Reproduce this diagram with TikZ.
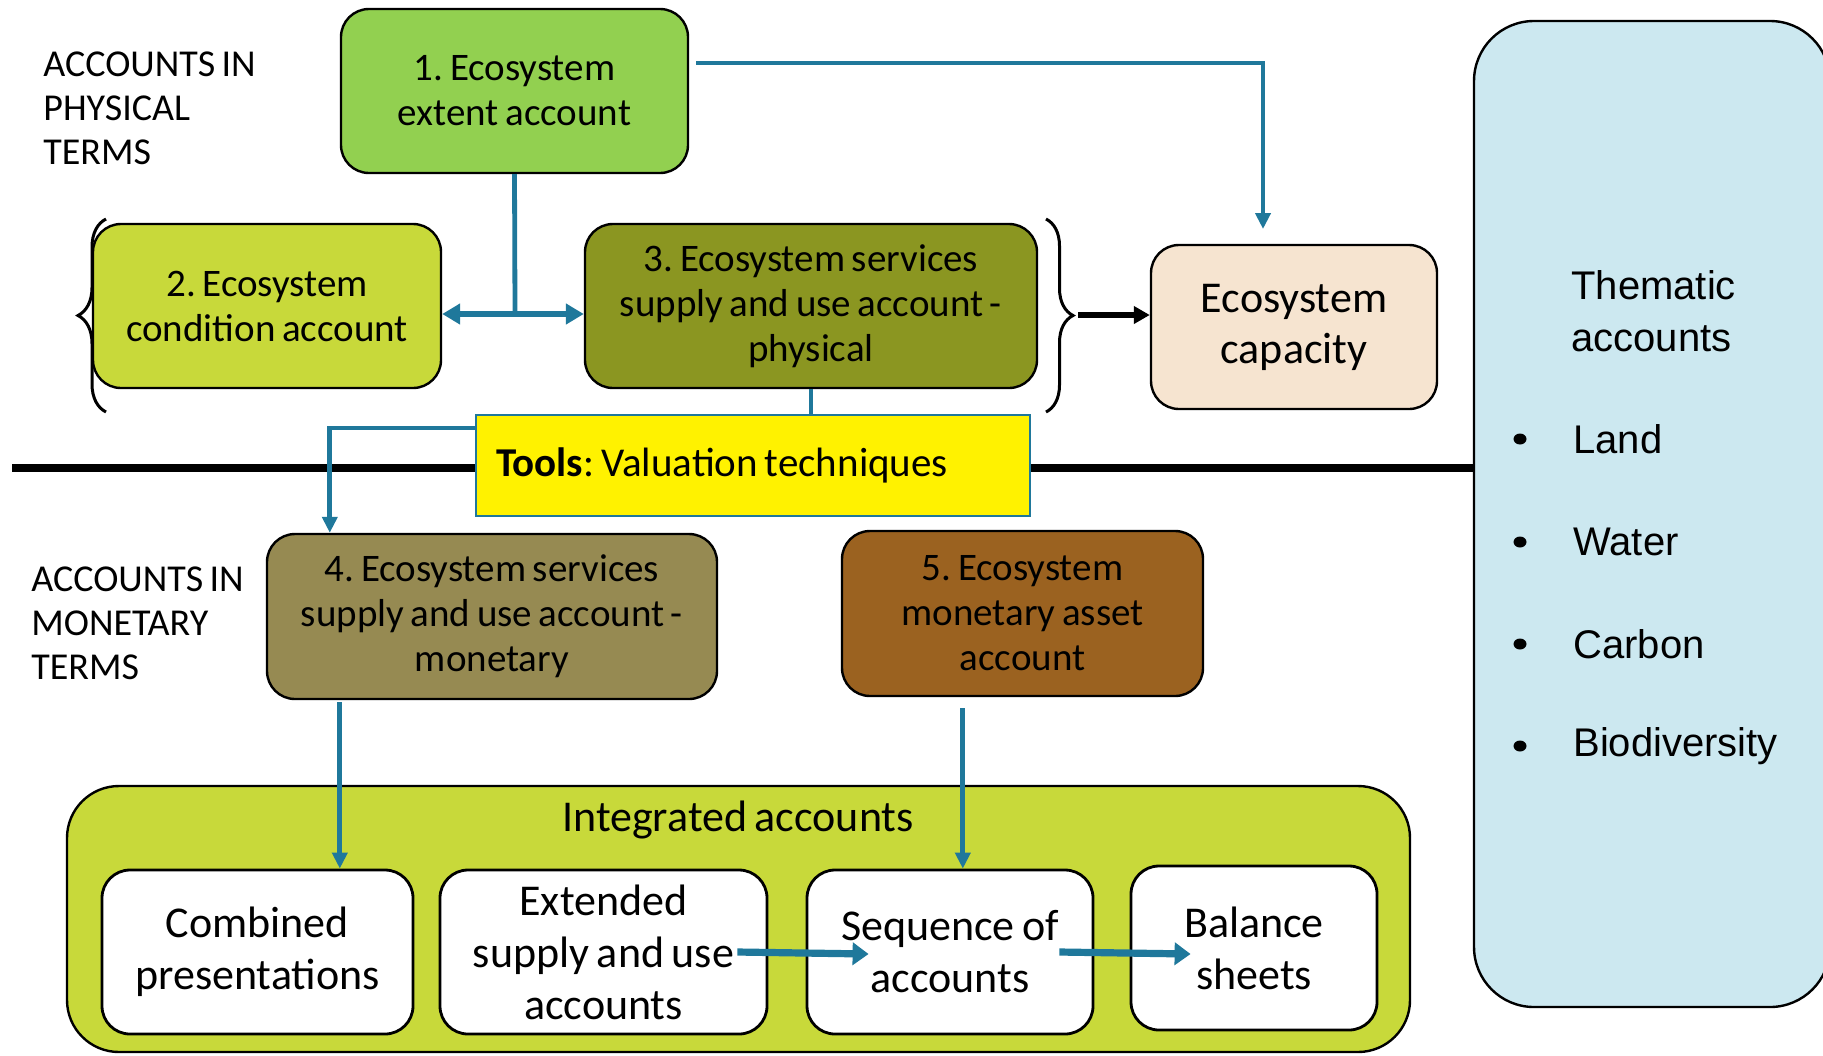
\documentclass[tikz,border=0pt]{standalone}
\usepackage{fontspec}
\setmainfont{Carlito}[WordSpace=0.75]
\newfontfamily\arialf{Liberation Sans}
\usetikzlibrary{arrows.meta,decorations.pathreplacing,calc,shapes.geometric}
\definecolor{arrblue}{RGB}{31,120,155}
\definecolor{cone}{RGB}{146,208,80}
\definecolor{ctwo}{RGB}{200,217,58}
\definecolor{cthree}{RGB}{139,150,33}
\definecolor{ccap}{RGB}{246,228,208}
\definecolor{cfour}{RGB}{150,138,82}
\definecolor{cfive}{RGB}{155,98,32}
\definecolor{cthem}{RGB}{204,232,240}
\begin{document}
\frenchspacing
\begin{tikzpicture}[x=0.5pt,y=-0.5pt,
  box/.style={draw=black, line width=1.2pt, rounded corners=14pt, align=center, inner sep=2pt,
    font=\fontsize{19.5}{22.5}\selectfont},
  ibox/.style={draw=black, line width=1.4pt, fill=white, rounded corners=14pt, align=center, inner sep=2pt,
    font=\fontsize{22}{26}\selectfont, minimum height=82pt},
  lbl/.style={anchor=west, align=flush left, inner sep=0pt, font=\fontsize{19}{22}\selectfont},
  thtxt/.style={anchor=west, inner sep=0pt, font=\arialf\fontsize{20}{26}\selectfont},
  bul/.style={ellipse, fill=black, inner sep=0pt, minimum width=6.5pt, minimum height=5.5pt},
  arr/.style={draw=arrblue, line width=2.4pt, -{Triangle[length=8pt,width=7.5pt]}},
  darr/.style={draw=arrblue, line width=2.6pt, {Triangle[length=9pt,width=10pt]}-{Triangle[length=9pt,width=10pt]}},
  tarr/.style={draw=arrblue, line width=3.6pt, -{Triangle[length=8pt,width=11pt]}},
  bline/.style={draw=arrblue, line width=2.4pt},
  brc/.style={draw=black, line width=1.5pt, decorate}]
\useasboundingbox (0,0) rectangle (1823,1055);

% thematic box
\begin{scope}
\clip (0,0) rectangle (1823,1055);
\node[draw=black, line width=1.2pt, fill=cthem, rounded corners=30pt, minimum width=178pt, minimum height=493pt] (them) at (1652,514) {};
\end{scope}
\node[thtxt, align=flush left] (thtitle) at (1571,311) {Thematic\\accounts};
\node[bul] (bu1) at (1520,439) {};
\node[bul] (bu2) at (1520,542) {};
\node[bul] (bu3) at (1520,644) {};
\node[bul] (bu4) at (1520,746) {};
\node[thtxt] (it1) at (1573,439) {Land};
\node[thtxt] (it2) at (1573,542) {Water};
\node[thtxt] (it3) at (1573,644) {Carbon};
\node[thtxt] (it4) at (1573,746) {Biodiversity};

% horizontal divider
\coordinate (hl) at (12,468);
\draw[black, line width=4pt] (hl) -- (hl -| them.west);

% left labels
\node[lbl] (lphys) at (43,108) {ACCOUNTS IN\\PHYSICAL\\TERMS};
\node[lbl] (lmon) at (31,623) {ACCOUNTS IN\\MONETARY\\TERMS};

% physical boxes
\node[box, fill=cone, minimum width=173.5pt, minimum height=82pt] (b1) at (514.5,91) {1. Ecosystem\\extent account};
\node[box, fill=ctwo, minimum width=174pt, minimum height=82pt] (b2) at (267,306) {2. Ecosystem\\condition account};
\node[box, fill=cthree, minimum width=226pt, minimum height=82pt] (b3) at (811,306) {3. Ecosystem services\\supply and use account -\\physical};
\node[box, fill=ccap, minimum width=143pt, minimum height=82pt, font=\fontsize{22}{25.5}\selectfont] (cap) at (1294,327) {\raisebox{-2pt}{\parbox{130pt}{\centering Ecosystem\\capacity}}};

% tools
\node[draw=arrblue, line width=1pt, fill=yellow, minimum height=50.5pt, text width=257pt, inner xsep=10pt, align=flush left,
  font=\fontsize{20.5}{24}\selectfont] (tools) at (753,465.5) {\textbf{Tools}: Valuation techniques};

% monetary boxes
\node[box, fill=cfour, minimum width=225pt, minimum height=82.5pt] (b4) at (492,616.5) {4. Ecosystem services\\supply and use account -\\monetary};
\node[box, fill=cfive, minimum width=180.5pt, minimum height=82.5pt] (b5) at (1022.5,613.5) {5. Ecosystem\\monetary asset\\account};

% integrated
\node[draw=black, line width=1.2pt, fill=ctwo, rounded corners=26pt, minimum width=671.5pt, minimum height=133pt] (integ) at (738.5,919) {};
\node[font=\fontsize{22}{26}\selectfont] (intl) at (738,820) {Integrated accounts};
\node[ibox, minimum width=155.5pt] (comb) at (257.5,952) {Combined\\presentations};
\node[ibox, minimum width=163.5pt] (ext) at (603.5,952) {Extended\\supply and use\\accounts};
\node[ibox, minimum width=143pt] (seq) at (950,952) {Sequence of\\accounts};
\node[ibox, minimum width=123pt] (bal) at (1254,948) {Balance\\sheets};

% braces
\coordinate (lbtop) at (106,219);
\coordinate (lbbot) at (106,412);
\draw[brc, decoration={brace, amplitude=14pt}] (lbbot) -- (lbtop);
\coordinate (rbtop) at (1046,219);
\coordinate (rbbot) at (1046,412);
\draw[brc, decoration={brace, amplitude=13.5pt}] (rbtop) -- (rbbot);
\coordinate (rbtip) at (1078,315);
\draw[black, line width=2.6pt, -{Triangle[length=8pt,width=8.5pt]}] (rbtip) -- (rbtip -| cap.west);

% connectors
\coordinate (capin) at (1263,229);
\draw[arr] ([xshift=3.5pt,yshift=14pt]b1.east) -| (capin);
\coordinate (junc) at (515,314);
\draw[bline] (b1.south) -- (junc);
\draw[darr] (junc -| b2.east) -- (junc -| b3.west);
\draw[bline] (b3.south) -- (b3.south |- tools.north);
\draw[arr] ([yshift=18.75pt]tools.west) -| ([xshift=32pt]b4.north west);
\draw[arr] ([xshift=37pt,yshift=-1pt]b4.south west) coordinate (s4) -- (s4 |- comb.north);
\draw[arr] ([xshift=61pt,yshift=-5.5pt]b5.south west) coordinate (s5) -- (s5 |- seq.north);
\draw[tarr] ([xshift=-15.5pt]ext.east) -- ([xshift=31.5pt,yshift=-1pt]seq.west);
\draw[tarr] ([xshift=-17.5pt]seq.east) -- ([xshift=30.5pt,yshift=-3pt]bal.west);
\end{tikzpicture}
\end{document}
